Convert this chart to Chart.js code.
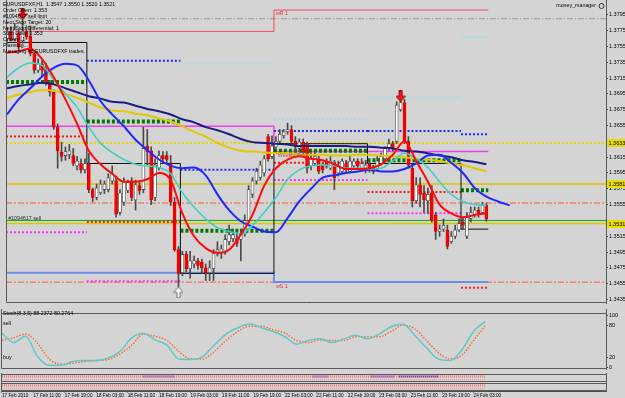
<!DOCTYPE html>
<html>
<head>
<meta charset="utf-8">
<script src="https://cdn.jsdelivr.net/npm/chart.js@4.4.1/dist/chart.umd.min.js"></script>
<style>
html, body { margin: 0; padding: 0; background: #d4d4d4; }
#wrap { position: relative; width: 625px; height: 398px; overflow: hidden; background: #d4d4d4; }
.pane { position: absolute; left: 0; width: 625px; }
canvas { display: block; }
</style>
</head>
<body>
<div id="wrap">
  <div class="pane" style="top:0;height:309px"><canvas id="main" width="625" height="309"></canvas></div>
  <div class="pane" style="top:309px;height:65px"><canvas id="stoch" width="625" height="65"></canvas></div>
  <div class="pane" style="top:373px;height:10px"><canvas id="sig1" width="625" height="10"></canvas></div>
  <div class="pane" style="top:382px;height:16px"><canvas id="sig2" width="625" height="16"></canvas></div>
</div>
<script>
// EURUSD H1, 17 Feb 03:00 .. 24 Feb 06:00 (bar index = position in arrays)
const open = [1.3764,1.3774,1.3764,1.3772,1.3762,1.3774,1.3768,1.3746,1.3725,1.3733,
1.3727,1.3709,1.3697,1.3653,1.3621,1.3617,1.3618,1.3617,1.3604,1.3607,
1.3599,1.3606,1.3574,1.3564,1.3570,1.3574,1.3574,1.3585,1.3585,1.3545,
1.3558,1.3573,1.3585,1.3561,1.3579,1.3574,1.3629,1.3623,1.3564,1.3601,
1.3617,1.3617,1.3607,1.3558,1.3498,1.3469,1.3492,1.3474,1.3480,1.3484,
1.3482,1.3475,1.3469,1.3474,1.3493,1.3494,1.3496,1.3508,1.3512,1.3512,
1.3511,1.3518,1.3535,1.3568,1.3585,1.3589,1.3595,1.3641,1.3616,1.3628,
1.3635,1.3642,1.3647,1.3650,1.3635,1.3626,1.3634,1.3632,1.3604,1.3607,
1.3611,1.3604,1.3610,1.3601,1.3607,1.3595,1.3597,1.3607,1.3597,1.3604,
1.3610,1.3601,1.3599,1.3606,1.3601,1.3600,1.3607,1.3613,1.3626,1.3632,
1.3635,1.3675,1.3684,1.3635,1.3601,1.3560,1.3580,1.3570,1.3560,1.3570,
1.3542,1.3521,1.3524,1.3523,1.3508,1.3515,1.3523,1.3533,1.3515,1.3537,
1.3542,1.3548,1.3545,1.3554];
const high = [1.3779,1.3780,1.3784,1.3776,1.3789,1.3781,1.3781,1.3749,1.3739,1.3737,
1.3734,1.3712,1.3700,1.3657,1.3634,1.3628,1.3631,1.3626,1.3616,1.3613,
1.3613,1.3620,1.3576,1.3581,1.3586,1.3585,1.3594,1.3604,1.3591,1.3574,
1.3589,1.3586,1.3589,1.3586,1.3584,1.3653,1.3650,1.3628,1.3613,1.3623,
1.3622,1.3622,1.3617,1.3564,1.3502,1.3496,1.3496,1.3496,1.3490,1.3487,
1.3486,1.3480,1.3484,1.3498,1.3508,1.3504,1.3517,1.3529,1.3524,1.3518,
1.3524,1.3542,1.3579,1.3589,1.3601,1.3610,1.3617,1.3644,1.3642,1.3641,
1.3650,1.3650,1.3658,1.3655,1.3641,1.3638,1.3638,1.3634,1.3620,1.3622,
1.3616,1.3607,1.3613,1.3616,1.3611,1.3610,1.3613,1.3611,1.3616,1.3613,
1.3613,1.3613,1.3611,1.3610,1.3605,1.3616,1.3620,1.3628,1.3638,1.3635,
1.3685,1.3690,1.3688,1.3641,1.3606,1.3589,1.3589,1.3579,1.3576,1.3579,
1.3545,1.3529,1.3537,1.3529,1.3521,1.3529,1.3537,1.3539,1.3545,1.3552,
1.3552,1.3552,1.3558,1.3557];
const low = [1.3759,1.3762,1.3762,1.3749,1.3759,1.3764,1.3743,1.3721,1.3722,1.3718,
1.3706,1.3692,1.3650,1.3601,1.3610,1.3611,1.3613,1.3604,1.3599,1.3595,
1.3595,1.3570,1.3559,1.3561,1.3568,1.3569,1.3571,1.3581,1.3539,1.3542,
1.3554,1.3570,1.3560,1.3548,1.3568,1.3570,1.3605,1.3555,1.3560,1.3599,
1.3607,1.3606,1.3554,1.3496,1.3451,1.3465,1.3470,1.3462,1.3475,1.3473,
1.3468,1.3459,1.3459,1.3459,1.3490,1.3487,1.3492,1.3504,1.3508,1.3502,
1.3484,1.3515,1.3532,1.3564,1.3581,1.3586,1.3591,1.3610,1.3613,1.3626,
1.3632,1.3639,1.3644,1.3633,1.3626,1.3622,1.3618,1.3595,1.3599,1.3604,
1.3594,1.3595,1.3601,1.3599,1.3574,1.3591,1.3594,1.3596,1.3595,1.3601,
1.3599,1.3599,1.3595,1.3596,1.3594,1.3599,1.3605,1.3611,1.3623,1.3623,
1.3632,1.3673,1.3632,1.3601,1.3552,1.3557,1.3552,1.3545,1.3544,1.3533,
1.3511,1.3515,1.3521,1.3499,1.3506,1.3512,1.3521,1.3524,1.3512,1.3533,
1.3539,1.3539,1.3543,1.3534];
const close = [1.3774,1.3764,1.3776,1.3754,1.3774,1.3767,1.3746,1.3725,1.3733,1.3725,
1.3709,1.3697,1.3653,1.3623,1.3616,1.3622,1.3623,1.3607,1.3610,1.3599,
1.3607,1.3574,1.3564,1.3576,1.3581,1.3581,1.3589,1.3594,1.3543,1.3570,
1.3584,1.3583,1.3564,1.3580,1.3573,1.3626,1.3622,1.3561,1.3605,1.3617,
1.3613,1.3612,1.3558,1.3498,1.3468,1.3492,1.3474,1.3484,1.3484,1.3478,
1.3475,1.3469,1.3475,1.3493,1.3498,1.3499,1.3511,1.3517,1.3517,1.3506,
1.3518,1.3535,1.3574,1.3585,1.3597,1.3605,1.3613,1.3613,1.3629,1.3635,
1.3644,1.3647,1.3650,1.3635,1.3628,1.3634,1.3622,1.3601,1.3613,1.3616,
1.3597,1.3599,1.3604,1.3610,1.3589,1.3605,1.3610,1.3599,1.3610,1.3610,
1.3604,1.3607,1.3605,1.3599,1.3597,1.3610,1.3616,1.3626,1.3632,1.3626,
1.3681,1.3684,1.3635,1.3605,1.3560,1.3580,1.3568,1.3561,1.3568,1.3535,
1.3521,1.3524,1.3529,1.3502,1.3515,1.3523,1.3531,1.3529,1.3539,1.3545,
1.3548,1.3543,1.3554,1.3537];

// moving averages / stochastic, read every third bar
const maIdx = [0,3,6,9,12,15,18,21,24,27,30,33,36,39,42,45,48,51,54,57,60,63,66,69,72,75,78,81,84,87,90,93,96,99,102,105,108,111,114,117,120,123,126,129];
const maRed = [1.3747,1.3749,1.3752,1.3739,1.3716,1.3688,1.3657,1.3623,1.3606,1.3594,1.3584,1.3584,1.3587,1.3595,1.3586,1.3544,1.3515,1.3500,1.3494,1.3498,1.3517,1.3542,1.3579,1.3601,1.3612,1.3616,1.3613,1.3611,1.3606,1.3600,1.3600,1.3601,1.3606,1.3618,1.3635,1.3610,1.3584,1.3555,1.3544,1.3539,1.3542,1.3544];
const maCyan = [1.3716,1.3728,1.3734,1.3731,1.3713,1.3695,1.3678,1.3653,1.3633,1.3621,1.3612,1.3606,1.3604,1.3602,1.3594,1.3570,1.3552,1.3537,1.3526,1.3521,1.3518,1.3529,1.3545,1.3564,1.3587,1.3599,1.3604,1.3605,1.3604,1.3601,1.3601,1.3600,1.3601,1.3610,1.3620,1.3613,1.3602,1.3584,1.3568,1.3559,1.3555,1.3554];
const maBlue = [1.3669,1.3688,1.3702,1.3717,1.3728,1.3733,1.3731,1.3712,1.3686,1.3669,1.3654,1.3637,1.3624,1.3612,1.3604,1.3601,1.3602,1.3592,1.3568,1.3548,1.3534,1.3527,1.3521,1.3520,1.3538,1.3559,1.3575,1.3589,1.3592,1.3595,1.3597,1.3599,1.3597,1.3597,1.3600,1.3607,1.3617,1.3618,1.3608,1.3595,1.3576,1.3565,1.3559,1.3554];
const maNavy = [1.3702,1.3705,1.3707,1.3709,1.3707,1.3702,1.3697,1.3692,1.3689,1.3685,1.3684,1.3680,1.3676,1.3673,1.3669,1.3663,1.3659,1.3653,1.3649,1.3644,1.3638,1.3634,1.3633,1.3632,1.3631,1.3629,1.3629,1.3629,1.3629,1.3629,1.3628,1.3628,1.3627,1.3626,1.3623,1.3622,1.3620,1.3617,1.3615,1.3611,1.3609,1.3606];
const maYellow = [1.3690,1.3694,1.3697,1.3700,1.3699,1.3695,1.3690,1.3684,1.3678,1.3674,1.3673,1.3670,1.3668,1.3664,1.3660,1.3654,1.3647,1.3641,1.3633,1.3627,1.3623,1.3622,1.3621,1.3620,1.3620,1.3618,1.3618,1.3618,1.3617,1.3617,1.3618,1.3618,1.3617,1.3616,1.3615,1.3613,1.3612,1.3610,1.3607,1.3605,1.3601,1.3597];
const stochMain = [65.5,48,60,22,5,5,12,14,14,19,31,57,65,53,43,17,16,21,43,64,76,83,76,69,59,45,52,55,48,55,62,55,64,78,83,62,38,17,14,34,69,88.2];
const stochSignal = [52,57,64,47,17,7,9,12,14,16,26,43,64,60,52,31,17,17,31,52,69,79,79,72,66,52,48,53,52,52,59,59,59,69,81,74,52,29,17,24,52,80.3];

// daily levels: 17, 18, 19, 22, 23, 24 Feb
const dayBounds = [-0.25, 20.5, 44.5, 68.5, 92.5, 116.5, 123.5];
const dayOpenLine = [1.3760, 1.3607, 1.3468, 1.3632, 1.3607, 1.3524];
const lvlGreen = [1.3710, 1.3660, 1.3522, 1.3623, 1.3611, 1.3573];
const lvlBlue = [null, 1.3737, 1.3599, 1.3648, 1.3648, 1.3644];
const lvlCyan = [null, null, 1.3733, 1.3663, 1.3690, 1.3767];
const lvlRed = [1.3641, 1.3533, null, 1.3608, 1.3571, 1.3450];
const lvlMagenta = [1.3520, 1.3458, null, 1.3586, 1.3544, null];
// weekly levels: week of 15 Feb, week of 22 Feb
const weekBounds = [-0.25, 68.5, 123.5];
const weekR1 = [1.3774, 1.3801];
const weekPivot = [1.3654, 1.3622];
const weekS1 = [1.3469, 1.3457];
// chart-wide horizontal lines
const lineGray = 1.3790;
const lineYellowDots = 1.3633;
const lineYellow1 = 1.3581;
const lineRedDash1 = 1.3557;
const lineGreen = 1.3535;
const lineYellow2 = 1.3531;
const lineRedDash2 = 1.3457;
// signals
const sellArrows = [{x: 4, y: 1.3796}, {x: 101, y: 1.3692}];
const buyArrows = [{x: 44, y: 1.3444}];

const priceTicks = [1.3435,1.3455,1.3475,1.3495,1.3515,1.3555,1.3575,1.3595,1.3615,1.3655,1.3675,1.3695,1.3715,1.3735,1.3755,1.3775,1.3795];
const stochTicks = [0, 20, 80, 100];
const timeTicks = [0,8,16,24,32,40,48,56,64,72,80,88,96,104,112,120];
const timeLabels = ['17 Feb 2010','17 Feb 11:00','17 Feb 19:00','18 Feb 03:00','18 Feb 11:00','18 Feb 19:00','19 Feb 03:00','19 Feb 11:00','19 Feb 19:00','22 Feb 03:00','22 Feb 11:00','22 Feb 19:00','23 Feb 03:00','23 Feb 11:00','23 Feb 19:00','24 Feb 03:00'];
const commentLines = ['EURUSDFXF,H1  1.3547 1.3550 1.3520 1.3521','Order Open: 1.353','#1094617 sell limit','Next Stop Target: 20','Next Stop Differential: 1','Stop Loss: 1.353','Orders: 1','Planning...','Managing #1 EURUSDFXF trades.'];
const sigBlue = [[36, 44], [79, 83], [94, 100], [101, 111]];

const X_MIN = -0.25, X_MAX = 153.7;
const P_MIN = 1.34306, P_MAX = 1.38061;
const FONT = '"Liberation Sans", Arial, sans-serif';

function hline(price, color, width, dash, order) {
  return { type: 'line', data: [{x: X_MIN, y: price}, {x: X_MAX, y: price}],
    borderColor: color, borderWidth: width, borderDash: dash, pointRadius: 0, order };
}
function daySegments(levels) {
  const pts = [];
  levels.forEach((v, d) => {
    if (v === null) return;
    pts.push({x: dayBounds[d], y: v}, {x: dayBounds[d + 1], y: v}, {x: dayBounds[d + 1], y: null});
  });
  return pts;
}
function steps(levels, bounds) {
  const pts = levels.map((v, d) => ({x: bounds[d], y: v}));
  pts.push({x: bounds[levels.length], y: levels[levels.length - 1]});
  return pts;
}
function seg(levels, color, width, dash, order) {
  return { type: 'line', data: daySegments(levels), borderColor: color, borderWidth: width,
    borderDash: dash, pointRadius: 0, order };
}
function stepLine(levels, bounds, color, width, order) {
  return { type: 'line', data: steps(levels, bounds), stepped: true, borderColor: color,
    borderWidth: width, pointRadius: 0, order };
}
function maLine(vals, color, width, order) {
  return { type: 'line', data: vals.map((v, k) => ({x: maIdx[k], y: v})), borderColor: color,
    borderWidth: width, pointRadius: 0, cubicInterpolationMode: 'monotone', order };
}
function arrowImg(fill, stroke, down) {
  const c = document.createElement('canvas');
  c.width = 10; c.height = 12;
  const g = c.getContext('2d');
  g.fillStyle = fill; g.strokeStyle = stroke; g.lineWidth = 1;
  g.beginPath();
  if (down) {
    g.moveTo(3.5, 0.5); g.lineTo(6.5, 0.5); g.lineTo(6.5, 6); g.lineTo(9.5, 6);
    g.lineTo(5, 11.5); g.lineTo(0.5, 6); g.lineTo(3.5, 6);
  } else {
    g.moveTo(3.5, 11.5); g.lineTo(6.5, 11.5); g.lineTo(6.5, 6); g.lineTo(9.5, 6);
    g.lineTo(5, 0.5); g.lineTo(0.5, 6); g.lineTo(3.5, 6);
  }
  g.closePath(); g.fill(); g.stroke();
  return c;
}

const frame = {
  id: 'frame',
  afterDraw(chart) {
    const { ctx, chartArea: a } = chart;
    const noTop = chart.canvas.id === 'main';
    ctx.save();
    ctx.strokeStyle = '#5a5a5a';
    ctx.lineWidth = 1;
    const l = Math.floor(a.left) + 0.5, r = Math.floor(a.right) + 0.5;
    const t = Math.floor(a.top) + 0.5, b = Math.floor(a.bottom) - 0.5;
    ctx.beginPath();
    if (!noTop) { ctx.moveTo(l, t); ctx.lineTo(r, t); }
    ctx.moveTo(l, 0); ctx.lineTo(l, b); ctx.lineTo(r, b); ctx.lineTo(r, 0);
    ctx.stroke();
    ctx.restore();
  }
};

const mainLabels = {
  id: 'mainLabels',
  afterDraw(chart) {
    const { ctx, chartArea: a } = chart;
    const x = chart.scales.x, y = chart.scales.y;
    ctx.save();
    ctx.font = '5.3px ' + FONT;
    ctx.textBaseline = 'middle';
    ctx.fillStyle = '#000';
    commentLines.forEach((t, k) => ctx.fillText(t, 3, 5 + k * 5.8));
    ctx.textAlign = 'right';
    ctx.fillText('money_manager', 596, 6);
    ctx.beginPath(); ctx.arc(601.5, 6, 2.5, 0, Math.PI * 2);
    ctx.strokeStyle = '#333'; ctx.lineWidth = 1; ctx.stroke();
    ctx.textAlign = 'left';
    const notes = [
      { text: 'wR 1', at: 69, price: 1.3796, color: '#e03030' },
      { text: 'wS 1', at: 69, price: 1.3452, color: '#e03030' },
      { text: 'Weekly Pivot', at: 69.5, price: 1.3617, color: '#d04040' },
      { text: '#1094617 sell', at: 0.3, price: 1.3538, color: '#203020' }
    ];
    notes.forEach(n => {
      ctx.fillStyle = n.color;
      ctx.fillText(n.text, x.getPixelForValue(n.at), y.getPixelForValue(n.price));
    });
    ctx.font = '5.5px ' + FONT;
    [lineYellowDots, lineYellow1, lineYellow2].forEach(p => {
      const py = Math.round(y.getPixelForValue(p));
      ctx.fillStyle = '#e8dc00';
      ctx.fillRect(a.right + 1, py - 4, 18, 8);
      ctx.fillStyle = '#000';
      ctx.fillText(p.toFixed(4), a.right + 2.5, py);
    });
    ctx.restore();
  }
};

const candleColor = open.map((o, i) => close[i] >= o ? '#ffffff' : '#ff0000');
const candleEdge = open.map((o, i) => close[i] >= o ? '#505050' : '#d00000');

new Chart(document.getElementById('main'), {
  type: 'bar',
  data: {
    datasets: [
      hline(lineGray, '#9a9a9a', 1, [6, 2, 1, 2], 60),
      hline(lineYellowDots, '#e6d600', 2, [2, 2], 60),
      hline(lineYellow1, '#d8c800', 1.5, [], 60),
      hline(lineRedDash1, '#ff5a3a', 1, [6, 2, 2, 2], 60),
      hline(lineGreen, '#10a010', 1, [], 60),
      hline(lineYellow2, '#d8c800', 1.5, [], 60),
      hline(lineRedDash2, '#ff5a3a', 1, [6, 2, 2, 2], 60),
      stepLine(weekR1, weekBounds, '#f04a68', 1, 55),
      stepLine(weekPivot, weekBounds, '#f040f0', 1.5, 55),
      stepLine(weekS1, weekBounds, '#6a8ee8', 2, 55),
      seg(lvlGreen, '#007a00', 4, [3, 2], 50),
      seg(lvlBlue, '#1a2cf0', 2, [2, 2], 50),
      seg(lvlCyan, '#9ce0e8', 2, [2, 2], 50),
      seg(lvlRed, '#ff1a1a', 2, [2, 2], 50),
      seg(lvlMagenta, '#ff30ff', 2, [2, 2], 50),
      stepLine(dayOpenLine, dayBounds, '#101010', 1, 45),
      {
        type: 'bar', data: open.map((o, i) => ({x: i, y: [low[i], high[i]]})),
        backgroundColor: '#4a4a4a', grouped: false, barPercentage: 1, categoryPercentage: 1,
        maxBarThickness: 1, borderWidth: 0, order: 30
      },
      {
        type: 'bar', data: open.map((o, i) => ({x: i, y: [o, close[i]]})),
        backgroundColor: candleColor, borderColor: candleEdge, borderWidth: 0.8,
        borderSkipped: false, grouped: false, barPercentage: 1, categoryPercentage: 1,
        maxBarThickness: 3, order: 29
      },
      maLine(maYellow, '#e2c800', 2, 12),
      maLine(maNavy, '#1c1c84', 2, 11),
      maLine(maBlue, '#1e28ff', 2, 10),
      maLine(maCyan, '#3ccfc4', 1.5, 9),
      maLine(maRed, '#ff0a0a', 2, 8),
      { type: 'line', data: sellArrows, showLine: false, pointStyle: arrowImg('#ff1010', '#a00000', true), pointRadius: 5, order: 1 },
      { type: 'line', data: buyArrows, showLine: false, pointStyle: arrowImg('#ffffff', '#707070', false), pointRadius: 5, order: 1 }
    ]
  },
  options: {
    responsive: false, animation: false, events: [],
    layout: { padding: { left: 1, top: 4, right: 0, bottom: 1 } },
    plugins: { legend: { display: false }, tooltip: { enabled: false } },
    scales: {
      x: { type: 'linear', min: X_MIN, max: X_MAX, offset: false, display: false },
      y: {
        position: 'right', min: P_MIN, max: P_MAX,
        afterBuildTicks: s => { s.ticks = priceTicks.map(v => ({ value: v })); },
        afterFit: s => { s.width = 19; },
        ticks: { callback: v => v.toFixed(4), color: '#000', font: { size: 5.5, family: FONT }, padding: 1, autoSkip: false },
        grid: { drawOnChartArea: false, tickLength: 2, color: '#404040' },
        border: { color: '#505050' }
      }
    }
  },
  plugins: [frame, mainLabels]
});

const stochLabels = {
  id: 'stochLabels',
  afterDraw(chart) {
    const { ctx } = chart;
    const y = chart.scales.y;
    ctx.save();
    ctx.font = '5.3px ' + FONT;
    ctx.textBaseline = 'middle';
    ctx.fillStyle = '#000';
    ctx.fillText('Stoch(8,3,5) 88.2372 80.2764', 3, 4.5);
    ctx.fillText('sell', 3, y.getPixelForValue(84));
    ctx.fillText('buy', 3, y.getPixelForValue(20));
    ctx.restore();
  }
};

new Chart(document.getElementById('stoch'), {
  type: 'line',
  data: {
    datasets: [
      { data: stochSignal.map((v, k) => ({x: maIdx[k], y: v})), borderColor: '#ff6a3a', borderWidth: 1.5,
        borderDash: [1.5, 1.5], pointRadius: 0, cubicInterpolationMode: 'monotone', order: 2 },
      { data: stochMain.map((v, k) => ({x: maIdx[k], y: v})), borderColor: '#62c8c4', borderWidth: 1.5,
        pointRadius: 0, cubicInterpolationMode: 'monotone', order: 1 }
    ]
  },
  options: {
    responsive: false, animation: false, events: [],
    layout: { padding: { left: 1, top: 1, right: 0, bottom: 2 } },
    plugins: { legend: { display: false }, tooltip: { enabled: false } },
    scales: {
      x: { type: 'linear', min: X_MIN, max: X_MAX, offset: false, display: false },
      y: {
        position: 'right', min: -3.4, max: 103.4,
        afterBuildTicks: s => { s.ticks = stochTicks.map(v => ({ value: v })); },
        afterFit: s => { s.width = 19; },
        ticks: { color: '#000', font: { size: 5.5, family: FONT }, padding: 1, autoSkip: false },
        grid: { drawOnChartArea: false, tickLength: 2, color: '#404040' },
        border: { color: '#505050' }
      }
    }
  },
  plugins: [frame, stochLabels]
});

function rowLine(v, color) {
  return { data: [{x: 0, y: v}, {x: 123, y: v}], borderColor: color, borderWidth: 2, borderDash: [1, 1], pointRadius: 0 };
}
function sigChart(id, withAxis) {
  const datasets = [rowLine(0.7, '#ff6f6f'), rowLine(0.3, '#f4a0b4')];
  if (withAxis === false) {
    const pts = [];
    sigBlue.forEach(([a, b]) => pts.push({x: a, y: 0.7}, {x: b, y: 0.7}, {x: b, y: null}));
    datasets.push({ data: pts, borderColor: '#3a3af0', borderWidth: 2, borderDash: [1, 1], pointRadius: 0 });
  }
  new Chart(document.getElementById(id), {
    type: 'line',
    data: { datasets },
    options: {
      responsive: false, animation: false, events: [],
      layout: { padding: { left: 1, top: 1, right: 0, bottom: withAxis ? 0 : 1 } },
      plugins: { legend: { display: false }, tooltip: { enabled: false } },
      scales: {
        x: withAxis ? {
          type: 'linear', min: X_MIN, max: X_MAX, offset: false, position: 'bottom',
          afterBuildTicks: s => { s.ticks = timeTicks.map(v => ({ value: v })); },
          afterFit: s => { s.height = 7; },
          ticks: { callback: (v, i) => timeLabels[i], align: 'start', color: '#000',
            font: { size: 4.7, family: FONT }, padding: 0, autoSkip: false, maxRotation: 0, minRotation: 0 },
          grid: { drawOnChartArea: false, tickLength: 1.5, color: '#404040' },
          border: { color: '#505050' }
        } : { type: 'linear', min: X_MIN, max: X_MAX, offset: false, display: false },
        y: {
          position: 'right', min: 0, max: 1,
          afterFit: s => { s.width = 19; },
          ticks: { display: false },
          grid: { drawOnChartArea: false, drawTicks: false },
          border: { color: '#505050' }
        }
      }
    },
    plugins: [frame]
  });
}
sigChart('sig1', false);
sigChart('sig2', true);
</script>
</body>
</html>
